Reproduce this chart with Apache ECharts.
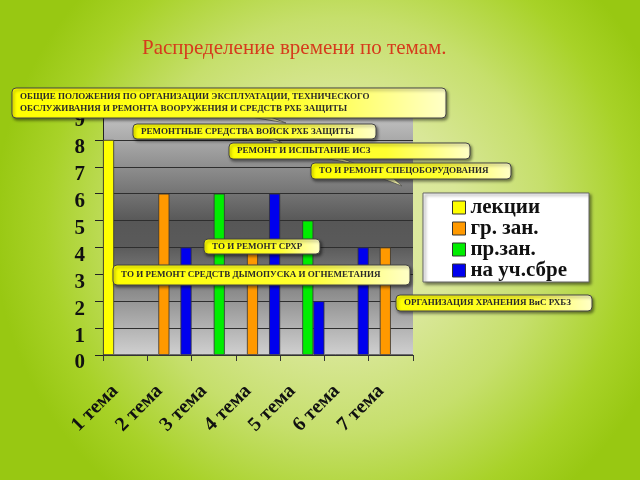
<!DOCTYPE html>
<html><head><meta charset="utf-8">
<script src="https://cdn.jsdelivr.net/npm/echarts@6/dist/echarts.min.js"></script>
<style>html,body{margin:0;padding:0;}#c{width:640px;height:480px;}</style>
</head><body><div id="c"></div>
<script>
const titleText = 'Распределение времени по темам.';
const categories = ['1 тема', '2 тема', '3 тема', '4 тема', '5 тема', '6 тема', '7 тема'];
const seriesNames = ['лекции', 'гр. зан.', 'пр.зан.', 'на уч.сбре'];
const lectures = [8, 0, 0, 0, 0, 0, 0];
const groupLessons = [0, 6, 0, 4, 0, 0, 4];
const practical = [0, 0, 6, 0, 5, 0, 0];
const training = [0, 4, 0, 6, 2, 4, 0];
const yMin = 0, yMax = 9, yStep = 1;
const calloutTexts = [
  'ОБЩИЕ ПОЛОЖЕНИЯ ПО ОРГАНИЗАЦИИ ЭКСПЛУАТАЦИИ, ТЕХНИЧЕСКОГО\nОБСЛУЖИВАНИЯ И РЕМОНТА ВООРУЖЕНИЯ И СРЕДСТВ РХБ ЗАЩИТЫ',
  'РЕМОНТНЫЕ СРЕДСТВА ВОЙСК РХБ ЗАЩИТЫ',
  'РЕМОНТ И ИСПЫТАНИЕ ИСЗ',
  'ТО И РЕМОНТ СПЕЦОБОРУДОВАНИЯ',
  'ТО И РЕМОНТ СРХР',
  'ТО И РЕМОНТ СРЕДСТВ ДЫМОПУСКА И ОГНЕМЕТАНИЯ',
  'ОРГАНИЗАЦИЯ ХРАНЕНИЯ ВиС РХБЗ'
];

// layout of callout boxes (x, y, w, h) and tails
const calloutLayout = [
  {box: [12, 88, 434, 30], tail: [[245, 116], [268, 116], [286, 123]]},
  {box: [133, 124, 243, 15], tail: [[258, 137], [272, 137], [282, 143]]},
  {box: [229, 143, 241, 16], tail: [[318, 157], [338, 157], [356, 164]]},
  {box: [311, 163, 200, 16], tail: [[378, 177], [392, 177], [402, 186]]},
  {box: [204, 239, 116, 15], tail: null},
  {box: [113, 265, 297, 20], tail: null},
  {box: [396, 295, 196, 16], tail: null}
];

const SERIF = '"Liberation Serif", "DejaVu Serif", serif';
const colors = ['#ffff00', '#ff9900', '#00ee00', '#0000ee'];

const chart = echarts.init(document.getElementById('c'), null, {renderer: 'canvas'});

function calloutFill() {
  return new echarts.graphic.LinearGradient(0, 0, 1, 0, [
    {offset: 0, color: '#ffff00'},
    {offset: 0.65, color: '#ffff30'},
    {offset: 1, color: '#ffffc8'}
  ]);
}

const graphics = [];
calloutLayout.forEach((c, i) => {
  const [x, y, w, h] = c.box;
  const zb = 100 + i * 3;
  if (c.tail) {
    graphics.push({type: 'polygon', z: zb, shape: {points: c.tail},
      style: {fill: '#ffffb0', stroke: '#555', lineWidth: 0.8}});
  }
  graphics.push({type: 'rect', z: zb + 1, shape: {x: x, y: y, width: w, height: h, r: 4},
    style: {fill: calloutFill(), stroke: '#444', lineWidth: 1,
      shadowBlur: 3, shadowOffsetX: 1.5, shadowOffsetY: 2, shadowColor: 'rgba(0,0,0,0.45)'}});
  graphics.push({type: 'text', z: zb + 2, x: x + 8, y: y + h / 2,
    style: {text: calloutTexts[i], fill: '#2a2a2a', font: 'bold 9px ' + SERIF,
      verticalAlign: 'middle', align: 'left', lineHeight: 12}});
});

const seriesData = [lectures, groupLessons, practical, training];

chart.setOption({
  backgroundColor: new echarts.graphic.RadialGradient(0.53, 0.47, 0.72, [
    {offset: 0, color: '#e2eca8'},
    {offset: 0.35, color: '#d9e798'},
    {offset: 0.6, color: '#c6df6c'},
    {offset: 0.85, color: '#a8d228'},
    {offset: 1, color: '#98c812'}
  ]),
  animation: false,
  title: {
    text: titleText, left: 137, top: 33,
    textStyle: {fontFamily: SERIF, fontSize: 21, fontWeight: 'normal', color: '#d63b1c'}
  },
  legend: {
    orient: 'vertical', left: 423, top: 193,
    data: seriesNames,
    icon: 'rect', itemWidth: 13, itemHeight: 13, itemGap: 0,
    padding: [4, 22, 1, 29],
    backgroundColor: '#ffffff', borderColor: '#666', borderWidth: 1,
    shadowColor: 'rgba(0,0,0,0.5)', shadowBlur: 3, shadowOffsetX: 2, shadowOffsetY: 2,
    itemStyle: {borderColor: '#333', borderWidth: 1},
    textStyle: {fontFamily: SERIF, fontSize: 21, fontWeight: 'bold', color: '#111', lineHeight: 20, height: 20}
  },
  grid: {
    left: 103, right: 227, top: 113, bottom: 125, show: true, borderWidth: 0,
    backgroundColor: new echarts.graphic.LinearGradient(0, 0, 0, 1, [
      {offset: 0, color: '#c4c4c4'},
      {offset: 0.45, color: '#575757'},
      {offset: 0.55, color: '#5a5a5a'},
      {offset: 1, color: '#d0d0d0'}
    ])
  },
  xAxis: {
    type: 'category', data: categories,
    axisLine: {show: true, lineStyle: {color: '#333', width: 1}},
    axisTick: {show: true, length: 6, lineStyle: {color: '#333'}},
    axisLabel: {rotate: 45, margin: 23, padding: [0, 14, 0, 0], fontFamily: SERIF, fontSize: 20, fontWeight: 'bold', color: '#111', interval: 0}
  },
  yAxis: {
    type: 'value', min: yMin, max: yMax, interval: yStep,
    axisLine: {show: true, lineStyle: {color: '#222', width: 1}},
    axisTick: {show: true, length: 8, lineStyle: {color: '#222'}},
    splitLine: {show: true, lineStyle: {color: '#2e2e2e', width: 1}},
    axisLabel: {margin: 18, fontFamily: SERIF, fontSize: 21, fontWeight: 'bold', color: '#111', verticalAlign: 'top', lineHeight: 16}
  },
  series: seriesNames.map((n, i) => ({
    name: n, type: 'bar', data: seriesData[i],
    barGap: '0%', barCategoryGap: '0%',
    itemStyle: {color: colors[i], borderColor: '#333', borderWidth: 0.8}
  })),
  graphic: graphics
});
</script>
</body></html>
